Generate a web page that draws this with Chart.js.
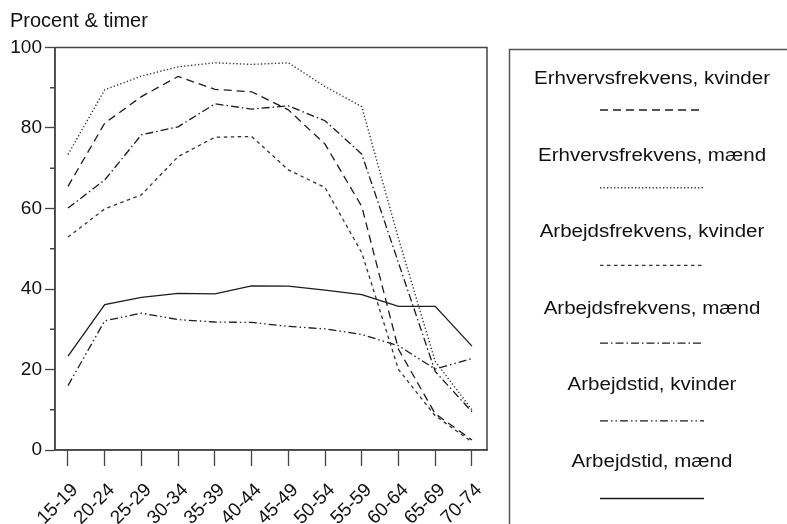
<!DOCTYPE html>
<html>
<head>
<meta charset="utf-8">
<script src="https://cdn.jsdelivr.net/npm/chart.js@4.4.1/dist/chart.umd.min.js"></script>
<style>
  html, body { margin: 0; padding: 0; background: #fff; }
  #wrap { width: 787px; height: 524px; }
</style>
</head>
<body>
<div id="wrap"><canvas id="chart" width="787" height="524"></canvas></div>
<script>
// age groups on the x axis
const ageGroups = ['15-19', '20-24', '25-29', '30-34', '35-39', '40-44', '45-49', '50-54', '55-59', '60-64', '65-69', '70-74'];

// values (percent / hours)
const erhvervKvinder = [65.5, 81.2, 87.8, 92.8, 89.6, 89.0, 84.5, 76.0, 60.5, 25.0, 9.0, 2.5];
const erhvervMaend = [73.4, 89.5, 92.9, 95.2, 96.2, 95.8, 96.2, 90.3, 85.3, 52.5, 22.0, 10.0];
const arbejdKvinder = [52.9, 59.9, 63.4, 72.9, 77.7, 77.9, 69.6, 65.2, 49.0, 20.0, 8.5, 2.0];
const arbejdMaend = [60.1, 67.1, 78.3, 80.3, 86.0, 84.7, 85.5, 81.8, 73.5, 46.5, 19.5, 9.5];
const tidKvinder = [16.0, 32.1, 34.0, 32.4, 31.8, 31.7, 30.7, 30.1, 28.7, 25.9, 20.1, 22.7];
const tidMaend = [23.3, 36.1, 37.9, 38.9, 38.8, 40.8, 40.7, 39.7, 38.6, 35.7, 35.7, 25.8];

const seriesNames = [
    'Erhvervsfrekvens, kvinder',
    'Erhvervsfrekvens, mænd',
    'Arbejdsfrekvens, kvinder',
    'Arbejdsfrekvens, mænd',
    'Arbejdstid, kvinder',
    'Arbejdstid, mænd'
];

const yTicks = [0, 20, 40, 60, 80, 100];

const FONT = '"Liberation Sans", Arial, Helvetica, sans-serif';
const INK = '#1c1c1c';

const toPoints = (values) => values.map((v, i) => ({ x: i, y: v }));

const line = (label, values, dash, color, width) => ({
    label: label,
    data: toPoints(values),
    borderColor: color || INK,
    borderWidth: width || 1.3,
    borderDash: dash,
    pointRadius: 0,
    fill: false,
    tension: 0
});

// frame round the plot area + the short minor ticks on the y axis
const frame = {
    id: 'frame',
    afterDraw(chart) {
        const { ctx, chartArea: a, scales: { y } } = chart;
        ctx.save();
        ctx.strokeStyle = '#444';
        ctx.lineWidth = 1.5;
        ctx.strokeRect(a.left, a.top, a.right - a.left, a.bottom - a.top);
        y.ticks.forEach(t => {
            if (t.value % 20 !== 0) {
                const py = y.getPixelForValue(t.value);
                ctx.beginPath();
                ctx.moveTo(a.left - 5, py);
                ctx.lineTo(a.left, py);
                ctx.stroke();
            }
        });
        ctx.restore();
    }
};

// legend in its own box on the right, text above a sample of the line
const sideLegend = {
    id: 'sideLegend',
    afterDraw(chart) {
        const ctx = chart.ctx;
        ctx.save();
        ctx.strokeStyle = '#555';
        ctx.lineWidth = 1.5;
        ctx.beginPath();
        ctx.moveTo(509.5, 530);
        ctx.lineTo(509.5, 49.5);
        ctx.lineTo(800, 49.5);
        ctx.stroke();

        const cx = 652;
        chart.data.datasets.forEach((ds, i) => {
            const ty = 84 + i * 76.5;
            const ly = 110 + i * 77.7;
            ctx.save();
            ctx.translate(cx, ty);
            ctx.scale(1.14, 1);
            ctx.font = '18px ' + FONT;
            ctx.fillStyle = '#111';
            ctx.textAlign = 'center';
            ctx.textBaseline = 'alphabetic';
            ctx.fillText(ds.label, 0, 0);
            ctx.restore();

            ctx.strokeStyle = ds.borderColor;
            ctx.lineWidth = ds.borderWidth;
            ctx.setLineDash(ds.borderDash || []);
            ctx.beginPath();
            ctx.moveTo(cx - 52, ly);
            ctx.lineTo(cx + 52, ly);
            ctx.stroke();
        });
        ctx.restore();
    }
};

new Chart(document.getElementById('chart'), {
    type: 'line',
    data: {
        datasets: [
            line(seriesNames[0], erhvervKvinder, [8, 5]),
            line(seriesNames[1], erhvervMaend, [1.3, 2.2], '#333', 1.4),
            line(seriesNames[2], arbejdKvinder, [3.5, 3.5], '#333'),
            line(seriesNames[3], arbejdMaend, [8, 3, 1.5, 3]),
            line(seriesNames[4], tidKvinder, [8, 3, 1.5, 3, 1.5, 3]),
            line(seriesNames[5], tidMaend, [])
        ]
    },
    options: {
        responsive: false,
        animation: false,
        devicePixelRatio: 1,
        layout: { padding: { left: 10, right: 300, top: 0, bottom: 0 } },
        plugins: {
            legend: { display: false },
            tooltip: { enabled: false },
            title: {
                display: true,
                text: 'Procent & timer',
                align: 'start',
                color: '#111',
                font: { family: FONT, size: 20, weight: 'normal' },
                padding: { top: 9, bottom: 14.5 }
            }
        },
        scales: {
            x: {
                type: 'linear',
                min: -0.354,
                max: 11.41,
                afterFit: (s) => { s.height = 74; },
                border: { display: true, color: '#444', width: 1.5 },
                grid: {
                    drawOnChartArea: false,
                    drawTicks: true,
                    tickLength: 16,
                    tickColor: '#444',
                    tickWidth: 1.3
                },
                ticks: {
                    stepSize: 1,
                    includeBounds: false,
                    autoSkip: false,
                    maxRotation: 45,
                    minRotation: 45,
                    padding: 13,
                    labelOffset: 7,
                    color: '#111',
                    font: { family: FONT, size: 19 },
                    callback: (v) => Number.isInteger(v) ? ageGroups[Math.abs(v)] : ''
                }
            },
            y: {
                min: 0,
                max: 100,
                afterFit: (s) => { s.width = 45; },
                border: { display: true, color: '#444', width: 1.5 },
                grid: {
                    drawOnChartArea: false,
                    drawTicks: true,
                    tickLength: 10,
                    tickWidth: 1.3,
                    tickColor: (c) => (c.tick && yTicks.includes(c.tick.value)) ? '#444' : 'rgba(0,0,0,0)'
                },
                ticks: {
                    stepSize: 10,
                    padding: 3,
                    color: '#111',
                    font: { family: FONT, size: 19 },
                    callback: (v) => yTicks.includes(v) ? v : ''
                }
            }
        }
    },
    plugins: [frame, sideLegend]
});
</script>
</body>
</html>
